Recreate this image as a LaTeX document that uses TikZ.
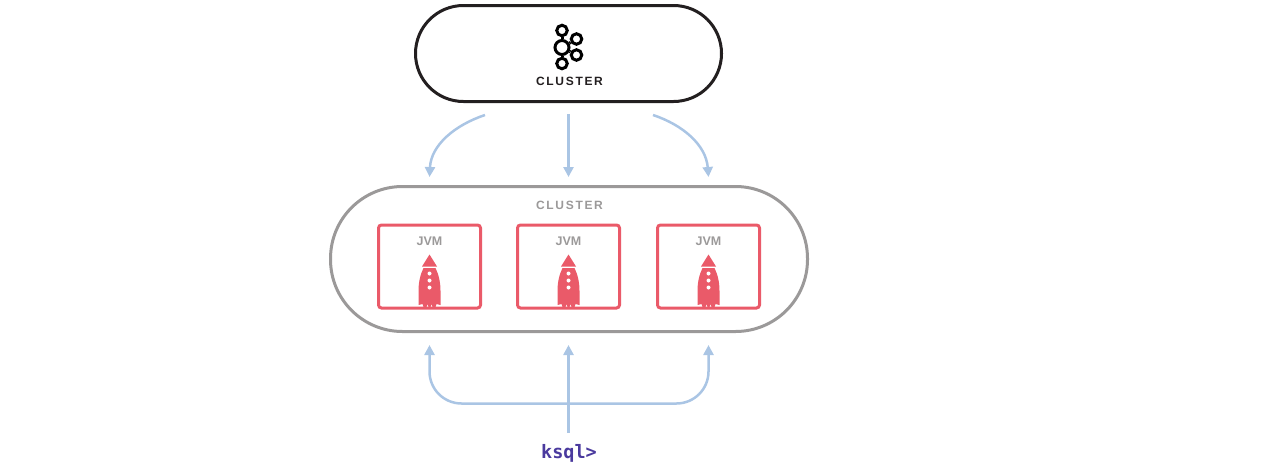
\documentclass[tikz,border=0pt]{standalone}
\usepackage{fontspec}
\usetikzlibrary{positioning,arrows.meta}
\setmainfont{Liberation Sans}
\newfontfamily\labelfont[LetterSpace=14]{Liberation Sans}
\newfontfamily\promptfont{DejaVu Sans Mono}
\definecolor{flowblue}{HTML}{AAC5E4}
\definecolor{rocketred}{HTML}{EA5A69}
\definecolor{pillgray}{HTML}{9B9999}
\definecolor{pilldark}{HTML}{231F20}
\definecolor{promptblue}{HTML}{4A3A9E}
\tikzset{
    pill/.style={draw, line width=3pt, rounded corners=#1, inner sep=0pt},
    jvmbox/.style={draw=rocketred, line width=3pt, rounded corners=3pt, minimum width=102pt, minimum height=83pt, inner sep=0pt},
    caption/.style={font=\labelfont\fontsize{12}{12}\selectfont\bfseries, inner sep=0pt},
    flow/.style={draw=flowblue, line width=2.5pt, -{Triangle[width=10pt,length=10pt]}},
    logoring/.style={circle, draw=black, line width=3pt, inner sep=0pt, minimum size=#1},
    pics/rocket/.style={code={
        \fill [rocketred] (0,-52.5) -- (7.5,-40.5) -- (-7.5,-40.5) -- cycle;
        \fill [rocketred] (-6,-39) -- (6,-39) .. controls (9.5,-32) and (11,-24) .. (11,-16) -- (11,-2)
            -- (7,-3) -- (6,0) -- (3,0) -- (2,-3) -- (1,0) -- (-1,0) -- (-2,-3) -- (-3,0) -- (-6,0) -- (-7,-3) -- (-11,-2) -- (-11,-16)
            .. controls (-11,-24) and (-9.5,-32) .. (-6,-39) -- cycle;
        \foreach \d in {-33.5,-26.5,-19.5}
            \fill [white] (0,\d) circle (2pt);
    }}
}
\begin{document}
\begin{tikzpicture}[x=1pt, y=-1pt]
    \useasboundingbox (0,0) rectangle (1265,466);
    % top cluster
    \node [pill=48pt, draw=pilldark, minimum width=306pt, minimum height=96pt] (topcluster) at (568.5,53.5) {};
    \node [logoring=14pt] (hub) at (562,47.5) {};
    \node [logoring=10.5pt] (ringa) at (562,30.5) {};
    \node [logoring=10.5pt] (ringb) at (562,63.5) {};
    \node [logoring=10.5pt] (ringc) at (576.5,39) {};
    \node [logoring=10.5pt] (ringd) at (576.5,55) {};
    \foreach \r in {ringa,ringb,ringc,ringd}
        \draw [line width=3pt] (hub) -- (\r);
    \node [caption, text=pilldark] (toplabel) at (569.5,81) {CLUSTER};
    % lower cluster
    \node [pill=72pt, draw=pillgray, minimum width=477pt, minimum height=145pt] (lowcluster) at (569,259) {};
    \node [caption, text=pillgray] (lowlabel) at (569.5,205) {CLUSTER};
    \foreach \name/\x in {jvma/429.5,jvmb/568.5,jvmc/708.5}{
        \node [jvmbox] (\name) at (\x,266.5) {};
        \node [font=\fontsize{12.5}{12.5}\selectfont\bfseries, text=pillgray, inner sep=0pt] (\name label) at (\x,241) {JVM};
        \pic at (\x,307) {rocket};
    }
    \node [font=\promptfont\fontsize{18.5}{18.5}\selectfont\bfseries, text=promptblue, inner sep=0pt] (prompt) at (569,453) {ksql>};
    % arrows
    \coordinate (outa) at (485,115);
    \coordinate (outb) at (568.5,114);
    \coordinate (outc) at (653,115);
    \coordinate (ina) at (429.5,177);
    \coordinate (inb) at (568.5,177);
    \coordinate (inc) at (708.5,177);
    \coordinate (upa) at (429.5,345);
    \coordinate (upb) at (568.5,345);
    \coordinate (upc) at (708.5,345);
    \coordinate (promptout) at (568.5,433);
    \coordinate (busmid) at (568.5,403.5);
    \draw [flow] (outa) .. controls (455,125) and (431,145) .. (ina);
    \draw [flow] (outb) -- (inb);
    \draw [flow] (outc) .. controls (683,125) and (706,145) .. (inc);
    \draw [flow] (promptout) -- (upb);
    \draw [flow, rounded corners=32pt] (busmid) -| (upa);
    \draw [flow, rounded corners=32pt] (busmid) -| (upc);
\end{tikzpicture}
\end{document}
